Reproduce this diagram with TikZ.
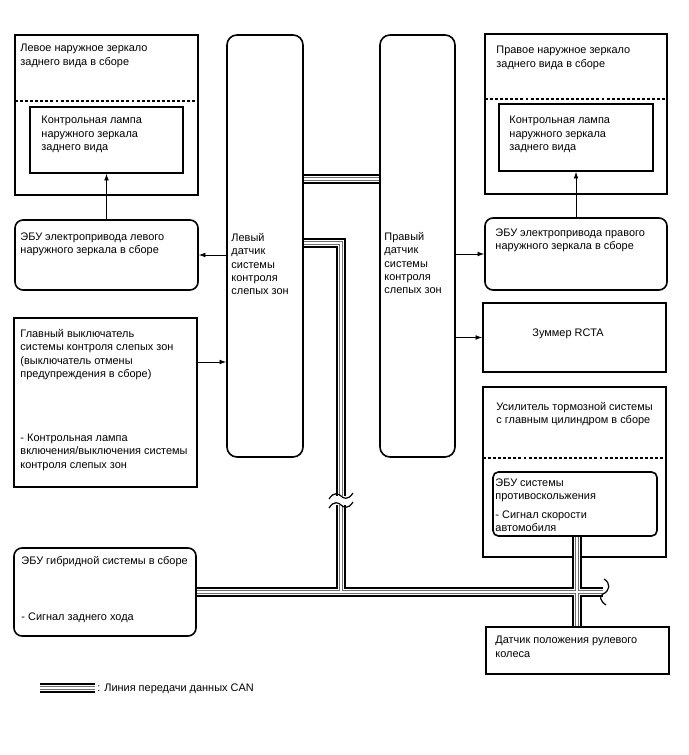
\documentclass[tikz,border=0pt]{standalone}
\usepackage{fontspec}
\setmainfont{Liberation Sans}
\usetikzlibrary{arrows.meta, positioning, calc, fit}
\definecolor{canline}{RGB}{110,110,110}

\begin{document}
\begin{tikzpicture}[x=0.75pt, y=-0.75pt,
  box/.style={draw, line width=1.2pt, inner sep=0pt},
  ecubox/.style={box, rounded corners=6pt},
  sensbox/.style={box, rounded corners=7.5pt},
  txt/.style={anchor=north west, inner sep=0pt, align=left, font=\fontsize{8.2}{10}\selectfont},
  sep/.style={line width=0.8pt, dash pattern=on 2.2pt off 1.6pt},
  sig/.style={-{Latex[length=5pt,width=3.6pt]}, line width=0.6pt},
  canA/.style={line width=8pt},
  canB/.style={white, line width=4.6pt},
  canC/.style={canline, line width=2.6pt},
  canD/.style={white, line width=0.9pt},
  cut/.style={line width=0.9pt}
]
\fill[white] (0,0) rectangle (688,755);
\useasboundingbox (0,0) rectangle (688,755);

% left mirror
\node[box, fit={(15,35) (198,195)}] (lmir) {};
\node[txt] (lmirT) at ([shift={(6,10)}]lmir.north west) {Левое наружное зеркало\\заднего вида в сборе};
\draw[sep] (15,101) -- (198,101);
\node[box, fit={(30,107) (183,173)}] (lmirlamp) {};
\node[txt] (lmirlampT) at ([shift={(12,10)}]lmirlamp.north west) {Контрольная лампа\\наружного зеркала\\заднего вида};
\node[ecubox, fit={(15,220) (198,290)}] (lecu) {};
\node[txt] (lecuT) at ([shift={(6,13)}]lecu.north west) {ЭБУ электропривода левого\\наружного зеркала в сборе};

% blind spot sensors
\node[sensbox, fit={(227,35) (303,457)}] (lsens) {};
\node[txt] (lsensT) at ([shift={(5,199)}]lsens.north west) {Левый\\датчик\\системы\\контроля\\слепых зон};
\node[sensbox, fit={(380,35) (455,457)}] (rsens) {};
\node[txt] (rsensT) at ([shift={(5,198)}]rsens.north west) {Правый\\датчик\\системы\\контроля\\слепых зон};

% right mirror
\node[box, fit={(485,34) (667,194)}] (rmir) {};
\node[txt] (rmirT) at ([shift={(12,13)}]rmir.north west) {Правое наружное зеркало\\заднего вида в сборе};
\draw[sep] (485,99) -- (667,99);
\node[box, fit={(499,104) (653,171)}] (rmirlamp) {};
\node[txt] (rmirlampT) at ([shift={(11,13)}]rmirlamp.north west) {Контрольная лампа\\наружного зеркала\\заднего вида};
\node[ecubox, fit={(485,218) (667,290)}] (recu) {};
\node[txt] (recuT) at ([shift={(11,11)}]recu.north west) {ЭБУ электропривода правого\\наружного зеркала в сборе};

% main switch, buzzer, brake booster
\node[box, fit={(14,318) (197,487)}] (bsw) {};
\node[txt] (bswT) at ([shift={(7,12)}]bsw.north west) {Главный выключатель\\системы контроля слепых зон\\(выключатель отмены\\предупреждения в сборе)\\[38pt]- Контрольная лампа\\включения/выключения системы\\контроля слепых зон};
\node[box, fit={(483,303) (666,372)}] (buzz) {};
\node[txt] (buzzT) at ([shift={(50,26)}]buzz.north west) {Зуммер RCTA};
\node[box, fit={(483,387) (666,557)}] (brake) {};
\node[txt] (brakeT) at ([shift={(14,16)}]brake.north west) {Усилитель тормозной системы\\с главным цилиндром в сборе};
\draw[sep] (483,458) -- (666,458);
\node[box, rounded corners=4pt, fit={(493,472) (657,536)}] (vsc) {};
\node[txt] (vscT) at ([shift={(3,7)}]vsc.north west) {ЭБУ системы\\противоскольжения\\[4pt]- Сигнал скорости\\автомобиля};

% hybrid ECU, steering sensor
\node[ecubox, fit={(14,548) (196,636)}] (hv) {};
\node[txt] (hvT) at ([shift={(8,9)}]hv.north west) {ЭБУ гибридной системы в сборе\\[32pt]- Сигнал заднего хода};
\node[box, fit={(486,627) (669,674)}] (steer) {};
\node[txt] (steerT) at ([shift={(10,10)}]steer.north west) {Датчик положения рулевого\\колеса};

% legend
\node[txt] (legT) at (97,684) {: Линия передачи данных CAN};

% signal lines
\draw[sig] (lecu.north -| lmirlamp.south) -- (lmirlamp.south);
\draw[sig] (recu.north -| rmirlamp.south) -- (rmirlamp.south);
\draw[sig] (lsens.west |- lecu.east) -- (lecu.east);
\draw[sig] (rsens.east |- recu.west) -- (recu.west);
\coordinate (bswout) at (197,362);
\draw[sig] (bswout) -- (bswout -| lsens.west);
\draw[sig] (rsens.east |- buzz.west) -- (buzz.west);

% CAN bus
\coordinate (canT) at (0,179);
\coordinate (jA) at (341,243);
\coordinate (brkA) at (341,496);
\coordinate (brkB) at (341,505);
\coordinate (jB) at (341,592);
\coordinate (jC) at (577,592);
\coordinate (busEnd) at (603,592);
\coordinate (legA) at (40,688);
\coordinate (legB) at (95,688);
\foreach \lay in {canA,canB,canC,canD} {
  \draw[\lay] (lsens.east |- canT) -- (rsens.west |- canT);
  \draw[\lay] (lsens.east |- jA) -- (jA) -- (brkA);
  \draw[\lay] (brkB) -- (jB);
  \draw[\lay] (hv.east |- jB) -- (busEnd);
  \draw[\lay] (vsc.south -| jC) -- (steer.north -| jC);
  \draw[\lay] (legA) -- (legB);
}
% cut marks
\foreach \c in {brkA,brkB}
  \draw[cut, shift={(\c)}] (-12,3) .. controls (-7,-5) and (-2,-2) .. (0,0) .. controls (2,2) and (7,5) .. (12,-3);
\draw[cut, shift={(busEnd)}] (1,-13) .. controls (8,-9) and (7,-1) .. (0,2) .. controls (-4,4) and (-3,9) .. (3,13);
\end{tikzpicture}
\end{document}
